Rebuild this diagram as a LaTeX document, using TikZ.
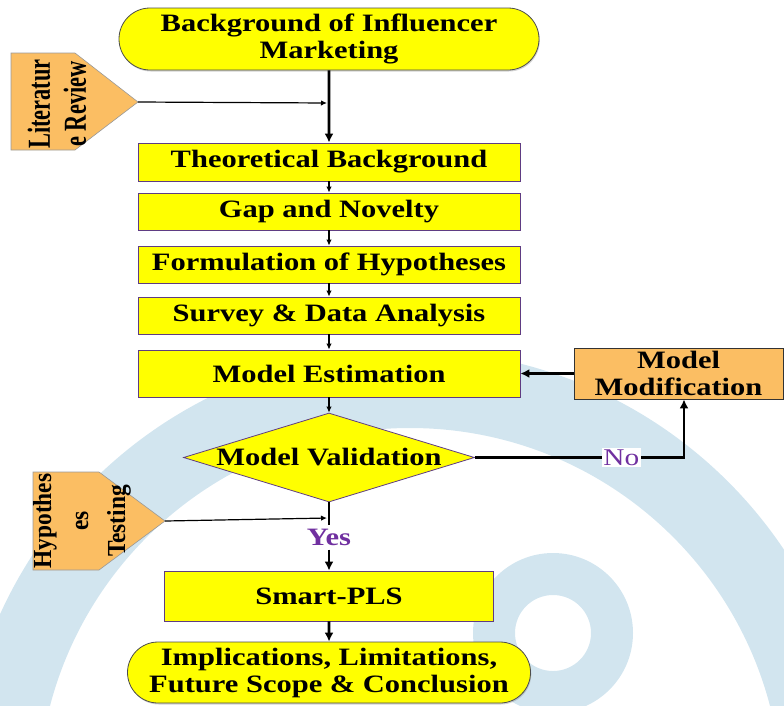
\documentclass[tikz,border=0pt]{standalone}
\usepackage{fontspec}
\setmainfont[FakeStretch=1.22]{Liberation Serif}
\newfontfamily\litfont[FakeStretch=0.7]{Liberation Serif}
\newfontfamily\hypfont[FakeStretch=0.9]{Liberation Serif}
\usetikzlibrary{shapes,arrows.meta,positioning,shadows}

\definecolor{boxyellow}{RGB}{255,255,0}
\definecolor{boxorange}{RGB}{251,190,99}
\definecolor{boxline}{RGB}{95,60,130}
\definecolor{labelpurple}{RGB}{112,48,160}
\definecolor{markblue}{RGB}{210,229,239}

\tikzset{
  boxfont/.style={font=\fontsize{25}{27}\selectfont\bfseries},
  stepbox/.style={rectangle, draw=boxline, line width=0.8pt, fill=boxyellow, boxfont, inner sep=0pt, align=center},
  endbox/.style={rounded rectangle, draw=black!70, line width=0.8pt, fill=boxyellow, boxfont, inner sep=0pt, align=center,
    drop shadow={shadow xshift=0.8pt, shadow yshift=-1.5pt, opacity=0.35}},
  sideshape/.style={draw=black!40, line width=0.6pt, fill=boxorange},
  sidetext/.style={rotate=90, align=center, inner sep=0pt},
  thinarrow/.style={line width=1.2pt, -{Latex[length=6pt,width=5.5pt]}},
  thickarrow/.style={line width=2.8pt, -{Latex[length=9pt,width=9pt]}},
  thickline/.style={line width=2.8pt}
}

\begin{document}
\begin{tikzpicture}[x=1pt, y=-1pt]
\useasboundingbox (0,0) rectangle (784,705);

% watermark rings
\begin{scope}
\clip (0,0) rectangle (784,705);
\fill[markblue, even odd rule] (410,800) circle[radius=450] (410,800) circle[radius=372];
\fill[markblue, even odd rule] (553,633) circle[radius=80] (553,633) circle[radius=38];
\end{scope}

% main column
\node[endbox, minimum width=420pt, minimum height=62pt] (bg) at (329,39) {Background of Influencer\\Marketing};
\node[stepbox, minimum width=382pt, minimum height=38pt] (theo) at (329,162) {Theoretical Background};
\node[stepbox, minimum width=382pt, minimum height=37pt] (gap) at (329,211.5) {Gap and Novelty};
\node[stepbox, minimum width=382pt, minimum height=37pt] (form) at (329,264.5) {Formulation of Hypotheses};
\node[stepbox, minimum width=382pt, minimum height=37pt] (survey) at (329,315.5) {Survey \& Data Analysis};
\node[stepbox, minimum width=382pt, minimum height=47pt] (est) at (329,373.5) {Model Estimation};
\node[diamond, draw=boxline, line width=0.8pt, fill=boxyellow, boxfont, inner sep=0pt, aspect=3.27,
  minimum width=291pt, minimum height=89pt] (valid) at (329,457.5) {Model Validation};
\node[boxfont, text=labelpurple, inner sep=4pt] (yes) at (329,537) {Yes};
\node[stepbox, minimum width=329pt, minimum height=50pt] (smart) at (329,596) {Smart-PLS};
\node[endbox, minimum width=403pt, minimum height=61pt] (final) at (329,672.5) {Implications, Limitations,\\Future Scope \& Conclusion};

% feedback box
\node[stepbox, fill=boxorange, draw=black!80, minimum width=209pt, minimum height=51pt] (mod) at (678.5,373.5) {Model\\Modification};

% side inputs
\draw[sideshape] (11,53) -- (75,53) -- (138,102) -- (75,150) -- (11,150) -- cycle;
\node[sidetext, font=\litfont\bfseries\fontsize{32}{36}\selectfont] (lit) at (57,104) {Literatur\\e Review};
\coordinate (litTip) at (138,102);
\coordinate (litJoin) at (328,103);

\draw[sideshape] (33,472) -- (99,472) -- (165,521) -- (99,570) -- (33,570) -- cycle;
\node[sidetext, font=\hypfont\bfseries\fontsize{26}{37}\selectfont] (hyp) at (82,521) {Hypothes\\es\\Testing};
\coordinate (hypTip) at (165,521);
\coordinate (hypJoin) at (328,518);

% connectors
\draw[thickarrow] (bg) -- (theo);
\draw[thinarrow, shorten >=1pt] (litTip) -- (litJoin);
\draw[thinarrow] (theo) -- (gap);
\draw[thinarrow] (gap) -- (form);
\draw[thinarrow] (form) -- (survey);
\draw[thinarrow] (survey) -- (est);
\draw[thinarrow] (est) -- (valid);
\draw[thickline] (valid.south) -- (yes.north);
\draw[thinarrow, shorten >=1pt] (hypTip) -- (hypJoin);
\draw[thickarrow] (yes) -- (smart);
\draw[thickarrow] (smart) -- (final);
\draw[thickarrow] (valid.east) -| node[pos=0.35, fill=white, inner sep=1.5pt, text=labelpurple,
  font=\fontsize{24}{26}\selectfont] (no) {No} ([xshift=5.5pt]mod.south);
\draw[thickarrow] (mod) -- (est);
\end{tikzpicture}
\end{document}
